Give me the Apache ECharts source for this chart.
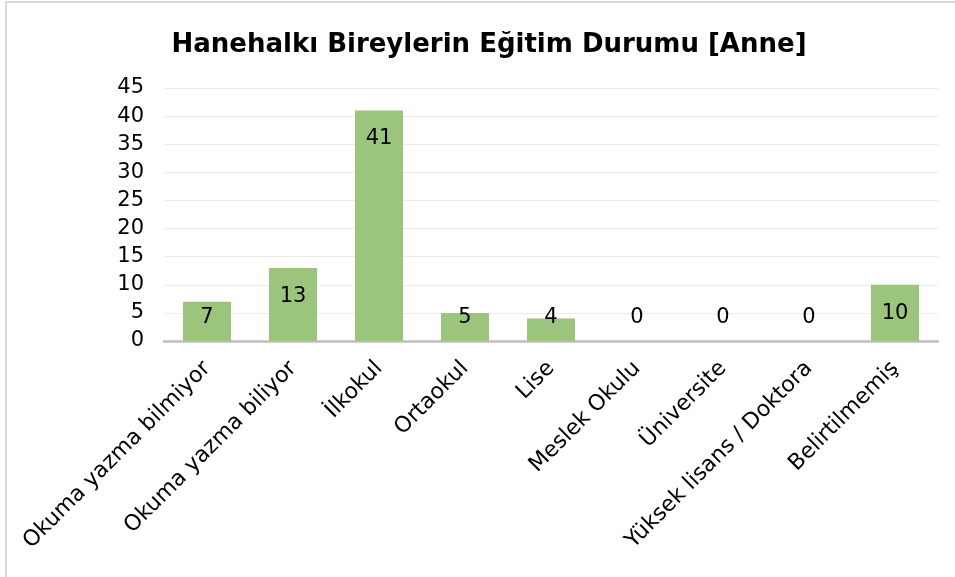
<!DOCTYPE html>
<html>
<head>
<meta charset="utf-8">
<script src="https://cdn.jsdelivr.net/npm/echarts@6/dist/echarts.min.js"></script>
<style>
html,body{margin:0;padding:0;background:#fff;}
#c{width:955px;height:577px;}
</style>
</head>
<body>
<div id="c"></div>
<script>
const titleText = 'Hanehalkı Bireylerin Eğitim Durumu [Anne]';
const categories = ['Okuma yazma bilmiyor','Okuma yazma biliyor','İlkokul','Ortaokul','Lise','Meslek Okulu','Üniversite','Yüksek lisans / Doktora','Belirtilmemiş'];
const values = [7, 13, 41, 5, 4, 0, 0, 0, 10];
const yTicks = [0, 5, 10, 15, 20, 25, 30, 35, 40, 45];

const chart = echarts.init(document.getElementById('c'), null, {renderer:'canvas'});
const font = 'DejaVu Sans, sans-serif';
const data = values.map(v => ({
  value: v,
  label: v >= 9 ? {position:'insideTop', distance: 18} : {position:'insideBottom', distance: 13}
}));
chart.setOption({
  animation:false,
  graphic:[{type:'rect', shape:{x:6, y:2, width:1000, height:1000}, style:{fill:'none', stroke:'#d9d9d9', lineWidth:2}, z:-1}],
  title:{text:titleText, left:484, textAlign:'center', top:27, textStyle:{fontFamily:font, fontSize:26, fontWeight:'bold', color:'#000'}},
  grid:{left:164, right:17, top:88, bottom:236, containLabel:false},
  xAxis:{type:'category', data:categories,
    axisLine:{lineStyle:{color:'#bfbfbf', width:2.5}}, axisTick:{show:false},
    axisLabel:{rotate:45, interval:0, fontFamily:font, fontSize:22, color:'#000', margin:24}},
  yAxis:{type:'value', min:0, max:45, interval:5,
    axisLine:{show:false}, axisTick:{show:false},
    splitLine:{lineStyle:{color:'#ececec', width:1}},
    axisLabel:{fontFamily:font, fontSize:21, color:'#000', margin:20,
      formatter: v => yTicks.includes(v) ? String(v) : ''}},
  series:[{type:'bar', data:data, barWidth:48, itemStyle:{color:'#9bc47d'},
    label:{show:true, fontFamily:font, fontSize:21, color:'#000'}}]
});
</script>
</body>
</html>
